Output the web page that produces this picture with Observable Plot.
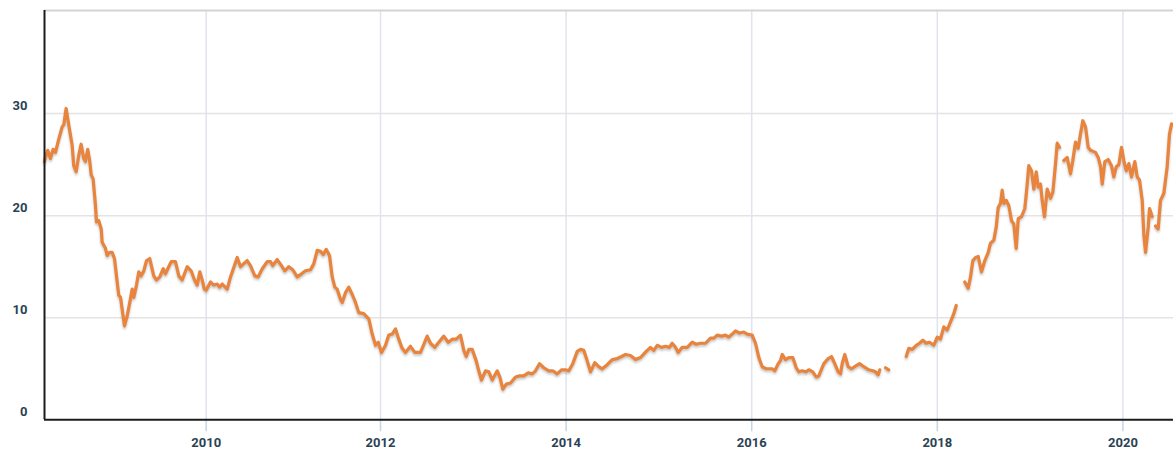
<!DOCTYPE html>
<html><head><meta charset="utf-8">
<script src="https://cdn.jsdelivr.net/npm/d3@7"></script>
<script src="https://cdn.jsdelivr.net/npm/@observablehq/plot@0.6"></script>
<style>
html,body{margin:0;padding:0;background:#fff;}
#chart svg{display:block;}
</style></head><body><div id="chart"></div>
<script>
const years = [
2008.258,2008.268,2008.293,2008.322,2008.351,2008.376,2008.412,2008.448,2008.466,2008.491,
2008.519,2008.556,2008.573,2008.599,2008.627,2008.653,2008.681,2008.699,2008.724,2008.746,
2008.761,2008.782,2008.807,2008.818,2008.843,2008.869,2008.879,2008.915,2008.933,2008.958,
2008.987,2009.012,2009.041,2009.058,2009.077,2009.106,2009.120,2009.149,2009.177,2009.203,
2009.220,2009.249,2009.274,2009.300,2009.328,2009.357,2009.392,2009.435,2009.464,2009.500,
2009.537,2009.561,2009.586,2009.623,2009.669,2009.705,2009.741,2009.795,2009.838,2009.874,
2009.903,2009.931,2009.957,2009.980,2010.000,2010.049,2010.087,2010.126,2010.153,2010.184,
2010.241,2010.279,2010.356,2010.394,2010.431,2010.470,2010.508,2010.558,2010.597,2010.643,
2010.700,2010.738,2010.764,2010.815,2010.864,2010.902,2010.948,2010.994,2011.044,2011.094,
2011.139,2011.197,2011.235,2011.274,2011.312,2011.343,2011.377,2011.415,2011.446,2011.476,
2011.503,2011.541,2011.561,2011.600,2011.636,2011.680,2011.713,2011.751,2011.808,2011.866,
2011.905,2011.943,2011.974,2012.011,2012.054,2012.089,2012.126,2012.162,2012.197,2012.234,
2012.269,2012.323,2012.370,2012.431,2012.467,2012.503,2012.539,2012.585,2012.628,2012.682,
2012.730,2012.773,2012.816,2012.862,2012.898,2012.924,2012.952,2012.988,2013.031,2013.059,
2013.088,2013.131,2013.167,2013.204,2013.258,2013.286,2013.318,2013.355,2013.401,2013.455,
2013.498,2013.544,2013.592,2013.635,2013.670,2013.713,2013.760,2013.814,2013.857,2013.904,
2013.950,2013.994,2014.029,2014.072,2014.120,2014.155,2014.191,2014.227,2014.263,2014.309,
2014.352,2014.389,2014.443,2014.497,2014.551,2014.597,2014.640,2014.694,2014.748,2014.802,
2014.863,2014.909,2014.945,2014.982,2015.028,2015.071,2015.114,2015.143,2015.179,2015.208,
2015.251,2015.305,2015.359,2015.402,2015.448,2015.502,2015.556,2015.592,2015.628,2015.675,
2015.718,2015.753,2015.790,2015.825,2015.869,2015.915,2015.952,2016.005,2016.041,2016.077,
2016.113,2016.156,2016.221,2016.249,2016.286,2016.310,2016.329,2016.364,2016.400,2016.443,
2016.480,2016.508,2016.544,2016.587,2016.615,2016.658,2016.695,2016.723,2016.777,2016.824,
2016.860,2016.895,2016.932,2016.957,2016.975,2017.003,2017.040,2017.075,2017.126,2017.162,
2017.208,2017.262,2017.305,2017.334,2017.363,2017.380,2017.410,2017.442,2017.477,2017.570,
2017.665,2017.693,2017.730,2017.773,2017.808,2017.844,2017.880,2017.916,2017.962,2017.999,
2018.034,2018.070,2018.107,2018.142,2018.178,2018.204,2018.250,2018.296,2018.333,2018.358,
2018.383,2018.412,2018.441,2018.476,2018.512,2018.549,2018.573,2018.609,2018.635,2018.656,
2018.681,2018.699,2018.717,2018.742,2018.770,2018.800,2018.824,2018.850,2018.872,2018.907,
2018.943,2018.969,2018.986,2019.015,2019.040,2019.066,2019.087,2019.112,2019.130,2019.155,
2019.184,2019.220,2019.245,2019.274,2019.292,2019.317,2019.340,2019.363,2019.400,2019.435,
2019.460,2019.489,2019.518,2019.543,2019.568,2019.597,2019.626,2019.651,2019.705,2019.734,
2019.759,2019.777,2019.805,2019.842,2019.877,2019.902,2019.928,2019.956,2019.985,2020.010,
2020.036,2020.064,2020.093,2020.128,2020.154,2020.179,2020.208,2020.225,2020.244,2020.273,
2020.287,2020.316,2020.333,2020.351,2020.380,2020.405,2020.441,2020.477,2020.502,2020.524,
2020.545
];
const values = [
25.3,25.7,26.4,25.6,26.5,26.2,27.5,28.7,28.9,30.5,
28.9,26.9,24.9,24.3,25.9,27.0,25.6,25.3,26.5,25.3,
24.0,23.6,21.0,19.4,19.5,18.7,17.4,16.8,16.1,16.4,
16.4,15.8,13.5,12.2,12.0,10.1,9.2,10.2,11.5,12.8,
12.0,13.2,14.5,14.1,14.6,15.6,15.8,14.1,13.7,14.0,
14.8,14.3,14.8,15.5,15.5,14.1,13.7,15.0,14.6,13.7,
13.2,14.5,13.7,12.8,12.7,13.5,13.2,13.3,13.0,13.3,
12.8,14.0,15.9,15.0,15.3,15.6,15.1,14.1,14.0,14.8,
15.5,15.5,15.1,15.7,15.1,14.6,15.0,14.7,14.0,14.3,
14.6,14.7,15.3,16.6,16.5,16.2,16.7,16.1,14.0,13.0,
12.8,11.8,11.5,12.5,13.0,12.2,11.5,10.5,10.4,9.9,
8.4,7.3,7.6,6.6,7.3,8.3,8.4,8.9,7.9,7.0,
6.6,7.2,6.6,6.6,7.4,8.2,7.5,7.1,7.6,8.2,
7.6,7.9,7.9,8.3,6.8,6.2,6.9,6.9,5.8,4.8,
3.9,4.8,4.7,3.9,4.8,4.2,3.0,3.5,3.6,4.2,
4.3,4.3,4.6,4.5,4.8,5.5,5.1,4.8,4.8,4.5,
4.9,4.9,4.8,5.5,6.7,6.9,6.8,5.8,4.7,5.6,
5.2,5.0,5.4,5.9,6.0,6.2,6.4,6.3,5.9,6.1,
6.7,7.1,6.8,7.3,7.1,7.2,7.1,7.5,7.1,6.6,
7.1,7.1,7.6,7.4,7.5,7.5,8.0,8.0,8.3,8.2,
8.3,8.1,8.4,8.7,8.5,8.6,8.4,8.3,7.5,6.1,
5.2,5.0,5.0,4.8,5.5,5.8,6.4,5.9,6.1,6.1,
5.1,4.7,4.8,4.7,4.9,4.7,4.2,4.3,5.5,6.0,
6.2,5.5,4.7,4.5,5.5,6.4,5.2,5.0,5.3,5.5,
5.2,4.9,4.8,4.7,4.4,4.9,null,5.1,4.9,null,
6.2,7.0,6.9,7.3,7.5,7.8,7.5,7.6,7.3,8.1,
7.9,9.1,8.8,9.6,10.4,11.2,null,13.5,12.9,14.0,
15.6,15.9,16.0,14.5,15.6,16.4,17.3,17.6,18.9,20.8,
21.2,22.5,21.2,21.5,21.0,19.5,19.2,16.8,19.7,19.9,
20.7,23.1,24.9,24.4,22.6,24.3,22.8,23.1,21.5,19.9,
22.6,21.7,22.3,25.1,27.1,26.7,null,25.4,25.7,24.1,
25.4,27.2,26.6,28.0,29.3,28.7,26.7,26.4,26.2,25.7,
24.8,23.1,25.3,25.5,24.9,23.8,24.8,25.0,26.7,25.4,
24.4,25.1,23.8,25.3,23.8,23.5,21.5,18.2,16.4,18.9,
20.7,19.9,null,19.0,18.7,21.5,22.2,24.8,28.0,29.0,
28.9
];
const xTicks = [2010, 2012, 2014, 2016, 2018, 2020];
const yTicks = [0, 10, 20, 30];
const yGrid = [10, 20, 30];
const xStart = 2008.258, xEnd = 2020.545, yMax = 40.1;

const data = years.map((t, i) => ({t, v: values[i]}));
const labelColor = "#2b4254";

const chart = Plot.plot({
  width: 1173,
  height: 450,
  marginLeft: 44,
  marginRight: 0,
  marginTop: 10,
  marginBottom: 30.7,
  x: {type: "linear", domain: [xStart, 2010, 2012, xEnd], range: [44, 205.7, 380, 1173], label: null},
  y: {domain: [0, yMax], label: null},
  style: {fontFamily: "Roboto, 'DejaVu Sans', sans-serif", background: "#fff", overflow: "visible"},
  marks: [
    Plot.gridY(yGrid, {stroke: "#e4e4e4", strokeOpacity: 1, strokeWidth: 1.5}),
    Plot.gridX(xTicks, {stroke: "#e0e4ed", strokeOpacity: 1, strokeWidth: 1.5}),
    Plot.ruleY([yMax], {stroke: "#d4d4d4", strokeWidth: 2}),
    Plot.axisX(xTicks, {tickSize: 12, tickPadding: 6, stroke: "#c5d4ea", strokeWidth: 1.5, label: null,
      fill: labelColor, fontWeight: "bold", fontSize: 13, tickFormat: d => String(d)}),
    Plot.axisY(yTicks, {tickSize: 0, tickPadding: 17, dy: -8, fill: labelColor, label: null,
      fontWeight: "bold", fontSize: 13, tickFormat: d => String(d)}),
    Plot.line(data, {x: "t", y: "v", stroke: "#e8843d", strokeWidth: 3.2,
      strokeLinejoin: "round", strokeLinecap: "round"}),
    Plot.ruleX([xStart], {stroke: "#1c1c1c", strokeWidth: 2}),
    Plot.ruleY([0], {stroke: "#1c1c1c", strokeWidth: 2})
  ]
});
document.getElementById("chart").appendChild(chart);
chart.querySelectorAll('g[aria-label="line"]').forEach(g => {
  g.style.filter = "drop-shadow(0px 2px 1.2px rgba(0,0,0,0.22))";
});
</script>
</body></html>
